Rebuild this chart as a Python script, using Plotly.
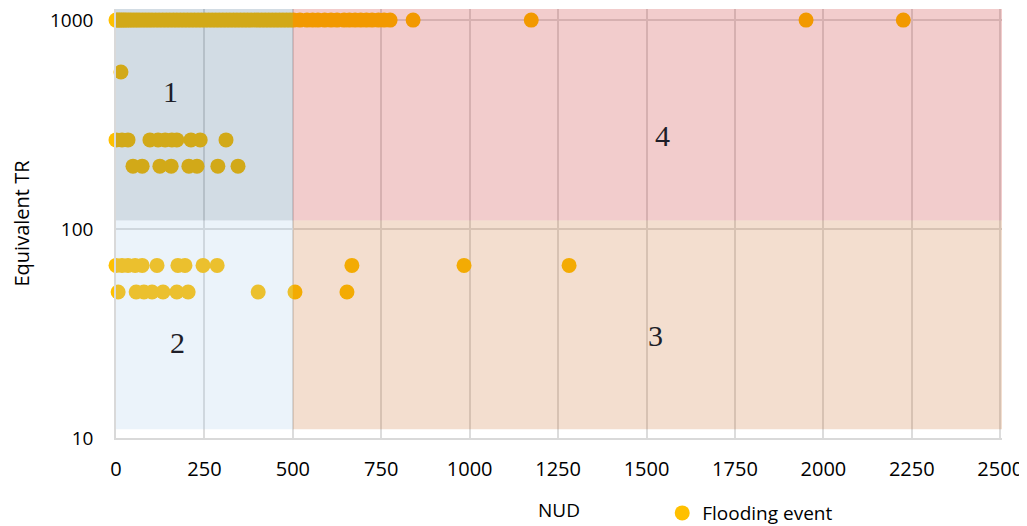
import math
import plotly.graph_objects as go

# ---- data ----
nud_1000 = [0, 5, 10, 16, 22, 28, 35, 42, 50, 58, 66, 75, 84, 93, 102, 112, 122, 132,
            142, 152, 162, 172, 182, 192, 202, 212, 222, 232, 242, 252, 262, 272, 282,
            292, 302, 312, 322, 332, 342, 352, 362, 372, 382, 392, 402, 412, 422, 432,
            442, 452, 462, 472, 482, 492, 502, 520, 540, 556, 571, 590, 608, 625, 645,
            660, 676, 692, 708, 724, 742, 758, 775, 840, 1174, 1951, 2226]
nud_564 = [14]
nud_267 = [0, 17, 34, 96, 119, 139, 158, 172, 212, 238, 311]
nud_200 = [48, 74, 124, 156, 206, 229, 288, 345]
nud_67 = [0, 17, 34, 54, 74, 116, 175, 195, 246, 286, 667, 984, 1281]
nud_50 = [6, 57, 79, 102, 133, 172, 204, 402, 506, 653]

tr_levels = [1000, 564, 267, 200, 67, 50]
nud_rows = [nud_1000, nud_564, nud_267, nud_200, nud_67, nud_50]

x_vals, y_vals = [], []
for tr, row in zip(tr_levels, nud_rows):
    x_vals += row
    y_vals += [tr] * len(row)

x_ticks = [0, 250, 500, 750, 1000, 1250, 1500, 1750, 2000, 2250, 2500]
y_ticks = [10, 100, 1000]

# zones: (label, x0, x1, y0, y1, colour)
zones = [
    ("1", 0, 500, 110, 1130, "#1F4E79"),
    ("4", 500, 2505, 110, 1130, "#C00000"),
    ("2", 0, 500, 11, 110, "#9DC3E6"),
    ("3", 500, 2505, 11, 110, "#C55A11"),
]
zone_label_pos = {"1": (155, 453), "2": (175, 28.5), "3": (1524, 31.1), "4": (1544, 279)}

font_family = "Open Sans, Lato, Liberation Sans, sans-serif"

fig = go.Figure()
fig.add_trace(go.Scatter(
    x=x_vals, y=y_vals, mode="markers", name="Flooding event",
    marker=dict(color="#FFC000", size=15, line=dict(width=0)),
    cliponaxis=False, showlegend=True,
))

for lab, x0, x1, y0, y1, col in zones:
    fig.add_shape(type="rect", xref="x", yref="y", x0=x0, x1=x1, y0=y0, y1=y1,
                  fillcolor=col, opacity=0.2, line=dict(width=0), layer="above")
    lx, ly = zone_label_pos[lab]
    fig.add_annotation(x=lx, y=math.log10(ly), xref="x", yref="y", text=lab, showarrow=False,
                       font=dict(family="Liberation Serif, Times New Roman, serif",
                                 size=30, color="#1e1e28"))

# the page body adds an 8px offset, so the figure is 8px smaller on each axis
fig.update_layout(
    width=1019, height=518,
    paper_bgcolor="white", plot_bgcolor="white",
    margin=dict(l=108, r=25, t=1, b=88, autoexpand=False),
    font=dict(family=font_family, size=19, color="#000000"),
    showlegend=True,
    legend=dict(orientation="h", x=0.6165, y=-0.175, xanchor="left", yanchor="middle",
                font=dict(size=19), bgcolor="rgba(0,0,0,0)", itemwidth=30),
)
fig.update_xaxes(
    range=[0, 2505], tickvals=x_ticks, ticktext=[str(v) for v in x_ticks],
    showgrid=True, gridcolor="#dcdcdc", gridwidth=1.5,
    showline=True, linecolor="#d9d9d9", linewidth=1.5, zeroline=False,
    ticks="outside", ticklen=12, tickcolor="rgba(0,0,0,0)", automargin=False,
    ticklabeloverflow="allow", tickfont=dict(size=20),
    title=dict(text="NUD", standoff=23, font=dict(size=19)),
)
fig.update_yaxes(
    type="log", range=[1, 3.053], tickvals=y_ticks, ticktext=[str(v) for v in y_ticks],
    showgrid=True, gridcolor="#dcdcdc", gridwidth=1.5,
    showline=True, linecolor="#d9d9d9", linewidth=1.5, zeroline=False,
    ticks="outside", ticklen=17, tickcolor="rgba(0,0,0,0)", automargin=False,
    ticklabeloverflow="allow", tickfont=dict(size=19),
    title=dict(text="Equivalent TR", standoff=27, font=dict(size=20)),
)

fig.write_html("out.html")
